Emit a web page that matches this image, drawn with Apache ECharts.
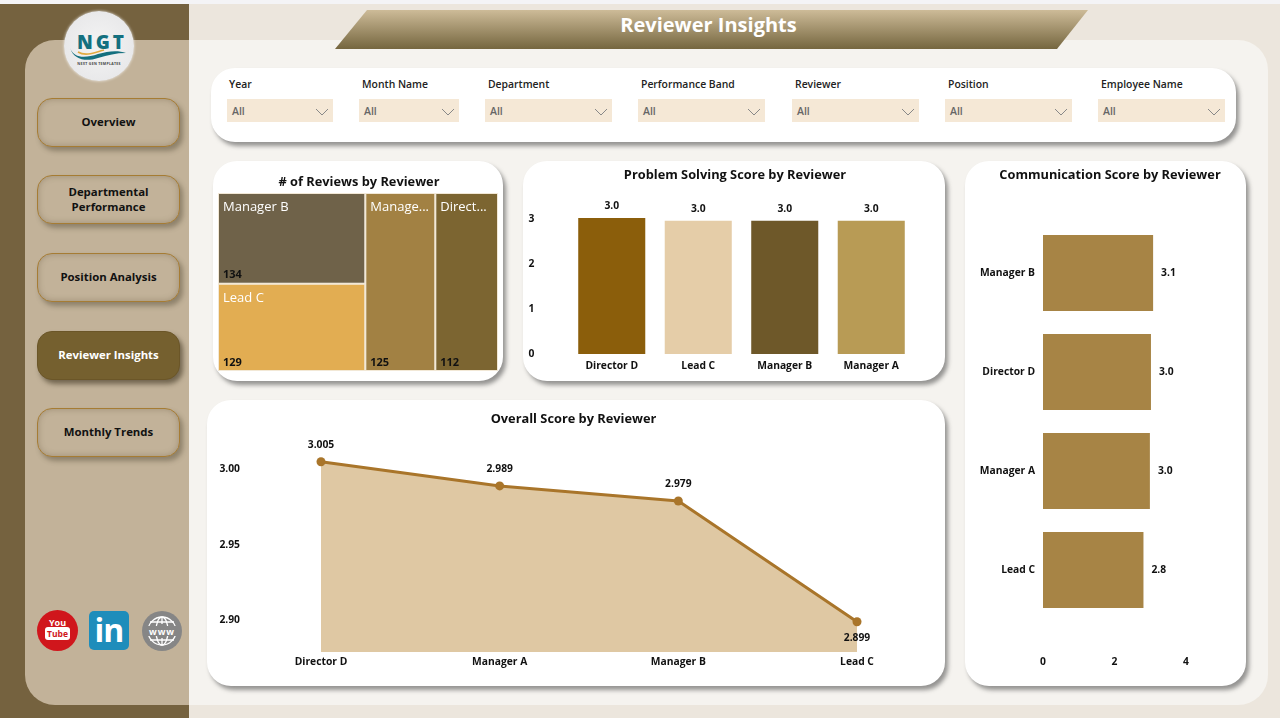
<!DOCTYPE html>
<html><head><meta charset="utf-8">
<script src="https://cdn.jsdelivr.net/npm/echarts@6/dist/echarts.min.js"></script>
<style>
html,body{margin:0;padding:0;width:1280px;height:718px;overflow:hidden;background:#ECE6DD;font-family:"Open Sans","Noto Sans",sans-serif}
.a{position:absolute;box-sizing:border-box}
.card{background:#fff;border-radius:24px;box-shadow:3px 4px 4px rgba(70,70,70,.55)}
.nav{left:37px;width:143px;height:49px;border:1px solid #A67C34;border-radius:15px;background:#C2B299;box-shadow:inset 0 0 6px rgba(90,75,50,.35),3px 4px 5px rgba(80,70,50,.45);color:#111;font-weight:700;font-size:11.4px;line-height:15.5px;display:flex;align-items:center;justify-content:center;text-align:center;padding-bottom:1px}
.nav.on{background:#75602F;border-color:#6b5628;color:#fff;box-shadow:3px 4px 5px rgba(60,50,30,.6)}
.sl{font-size:10.4px;font-weight:600;color:#222;top:77px;white-space:nowrap}
.box{top:99px;height:23px;background:#F5E8D6;color:#666;font-size:10.5px;font-weight:600;line-height:25px;padding-left:5px}
.box svg{position:absolute;right:4px;top:9px}
#chart{left:0;top:0;width:1280px;height:718px;z-index:5}
</style></head><body>
<div class="a" style="left:0;top:0;width:1280px;height:4px;background:#F4F4F6"></div>
<div class="a" style="left:0;top:4px;width:189px;height:714px;background:#75623F"></div>
<div class="a" style="left:25px;top:40px;width:164px;height:665px;background:#C2B299;border-radius:30px 0 0 30px"></div>
<div class="a" style="left:189px;top:40px;width:1079px;height:665px;background:#F5F3EF;border-radius:0 30px 30px 0"></div>
<div class="a" style="left:335px;top:10px;width:753px;height:39px;background:linear-gradient(#CDBB98,#75663F);clip-path:polygon(32px 0,753px 0,722px 100%,0 100%)"></div>
<div class="a" style="left:332px;top:10px;width:753px;height:30px;line-height:30px;text-align:center;color:#fff;font-weight:700;font-size:20px">Reviewer Insights</div>

<div class="a" style="left:64px;top:11px;width:70px;height:70px;border-radius:50%;background:radial-gradient(#F4F4F4,#E4E4E6);box-shadow:0 0 3px rgba(255,255,255,.8);text-align:center">
 <div style="margin-top:21px;font-weight:800;font-size:19px;letter-spacing:3px;color:#14707F;line-height:20px;padding-left:6px">NGT</div>
 <svg style="position:absolute;left:4px;top:33px" width="62" height="20" viewBox="0 0 62 20"><path d="M2 4C6 15 18 14 30 10C40 7 50 6 58 9C48 9 40 11 30 14C18 18 6 16 2 4Z" fill="#14707F"/><path d="M10 8C18 13 28 8 36 6" fill="none" stroke="#E0A93F" stroke-width="1.6"/></svg>
 <div style="position:absolute;left:0;width:70px;top:50px;font-size:3.5px;font-weight:700;color:#444;line-height:6px;letter-spacing:.3px">NEXT GEN TEMPLATES</div>
</div>
<div class="a nav" style="top:98px">Overview</div>
<div class="a nav" style="top:175px">Departmental<br>Performance</div>
<div class="a nav" style="top:253px">Position Analysis</div>
<div class="a nav on" style="top:331px">Reviewer Insights</div>
<div class="a nav" style="top:408px">Monthly Trends</div>

<div class="a" style="left:37px;top:610px;width:41px;height:41px;border-radius:50%;background:#D0161C;color:#fff;font-size:9px;font-weight:700;line-height:11px;text-align:center;padding-top:7px">You<br><span style="background:#fff;color:#D0161C;border-radius:3px;padding:1px 2px;font-size:8.5px">Tube</span></div>
<div class="a" style="left:89px;top:611px;width:40px;height:39px;border-radius:5px;background:#1E8DBB;color:#fff;font-size:32px;font-weight:700;line-height:38px;text-align:center;letter-spacing:-1px">in</div>
<svg class="a" style="left:142px;top:611px" width="40" height="40" viewBox="0 0 40 40"><circle cx="20" cy="20" r="20" fill="#868686"/><g fill="none" stroke="#fff" stroke-width="1.3"><circle cx="20" cy="20" r="14"/><ellipse cx="20" cy="20" rx="6" ry="14"/><path d="M20 6v7M20 27v7M8 11h24M8 29h24"/></g><rect x="3" y="15" width="34" height="10" fill="#868686"/><text x="20" y="24" text-anchor="middle" fill="#fff" font-size="9" font-weight="700" letter-spacing="1">www</text></svg>

<div class="a card" style="left:211px;top:68px;width:1025px;height:74px"></div>
<div class="a sl" style="left:229px">Year</div><div class="a box" style="left:227px;width:106px">All<svg width="14" height="8"><path d="M1 1l6 6 6-6" fill="none" stroke="#888"/></svg></div>
<div class="a sl" style="left:362px">Month Name</div><div class="a box" style="left:359px;width:100px">All<svg width="14" height="8"><path d="M1 1l6 6 6-6" fill="none" stroke="#888"/></svg></div>
<div class="a sl" style="left:488px">Department</div><div class="a box" style="left:485px;width:127px">All<svg width="14" height="8"><path d="M1 1l6 6 6-6" fill="none" stroke="#888"/></svg></div>
<div class="a sl" style="left:641px">Performance Band</div><div class="a box" style="left:638px;width:127px">All<svg width="14" height="8"><path d="M1 1l6 6 6-6" fill="none" stroke="#888"/></svg></div>
<div class="a sl" style="left:795px">Reviewer</div><div class="a box" style="left:792px;width:127px">All<svg width="14" height="8"><path d="M1 1l6 6 6-6" fill="none" stroke="#888"/></svg></div>
<div class="a sl" style="left:948px">Position</div><div class="a box" style="left:945px;width:127px">All<svg width="14" height="8"><path d="M1 1l6 6 6-6" fill="none" stroke="#888"/></svg></div>
<div class="a sl" style="left:1101px">Employee Name</div><div class="a box" style="left:1098px;width:127px">All<svg width="14" height="8"><path d="M1 1l6 6 6-6" fill="none" stroke="#888"/></svg></div>

<div class="a card" style="left:213px;top:161px;width:290px;height:220px"></div>
<div class="a card" style="left:523px;top:161px;width:422px;height:220px"></div>
<div class="a card" style="left:207px;top:400px;width:738px;height:286px"></div>
<div class="a card" style="left:965px;top:161px;width:281px;height:525px"></div>
<div class="a" id="chart"></div>
<script>
const reviewCategories = ['Manager B','Lead C','Manager A','Director D'];
const reviewCounts = [134,129,125,112];
const reviewColors = ['#6F6249','#E2AD52','#A28143','#7C6531'];
const problemCategories = ['Director D','Lead C','Manager B','Manager A'];
const problemScores = [3.03,2.97,2.97,2.97];
const problemTicks = [0,1,2,3];
const problemColors = ['#8B5E0B','#E5CDA8','#6E5829','#B89B55'];
const overallCategories = ['Director D','Manager A','Manager B','Lead C'];
const overallScores = [3.005,2.989,2.979,2.899];
const overallTicks = [2.90,2.95,3.00];
const commCategories = ['Manager B','Director D','Manager A','Lead C'];
const commScores = [3.08,3.02,2.99,2.81];

const font = '"Open Sans","Noto Sans",sans-serif';
const axisText = {color:'#111',fontWeight:700,fontSize:10.3,fontFamily:font};
const titleStyle = {color:'#111',fontWeight:700,fontSize:12.8,fontFamily:font};
const noLine = {show:false};
const treeData = reviewCategories.map((n,i)=>({name:n,value:reviewCounts[i],itemStyle:{color:reviewColors[i]}}));
const treeBase = {type:'treemap',left:218,top:193,width:280,height:178,roam:false,nodeClick:false,breadcrumb:{show:false},squareRatio:2,sort:'desc',
  levels:[{itemStyle:{gapWidth:2,borderWidth:1,borderColor:'#F2E8D6'}}]};

const chart = echarts.init(document.getElementById('chart'),null,{renderer:'canvas'});
chart.setOption({
  animation:false,
  backgroundColor:'transparent',
  title:[
    {text:'# of Reviews by Reviewer',left:354,top:171,textAlign:'center',textStyle:titleStyle},
    {text:'Problem Solving Score by Reviewer',left:730,top:164,textAlign:'center',textStyle:titleStyle},
    {text:'Overall Score by Reviewer',left:568.5,top:408,textAlign:'center',textStyle:titleStyle},
    {text:'Communication Score by Reviewer',left:1105,top:164,textAlign:'center',textStyle:titleStyle}
  ],
  grid:[
    {left:568.5,top:197,width:346,height:157},
    {left:321,top:450,width:536,height:202},
    {left:1043,top:223.5,width:143,height:396}
  ],
  xAxis:[
    {gridIndex:0,type:'category',data:problemCategories,axisLine:noLine,axisTick:noLine,axisLabel:{...axisText,margin:7}},
    {gridIndex:1,type:'category',data:overallCategories,boundaryGap:false,axisLine:noLine,axisTick:noLine,axisLabel:{...axisText,margin:5}},
    {gridIndex:2,type:'value',min:0,max:4,interval:2,splitLine:noLine,axisLine:noLine,axisTick:noLine,axisLabel:{...axisText,margin:38}}
  ],
  yAxis:[
    {gridIndex:0,type:'value',min:0,max:3.5,splitLine:noLine,axisLine:noLine,axisTick:noLine,axisLabel:{...axisText,margin:34,customValues:problemTicks}},
    {gridIndex:1,type:'value',min:2.879,max:3.0128,splitLine:noLine,axisLine:noLine,axisTick:noLine,
      axisLabel:{...axisText,margin:81,padding:[4,0,0,0],customValues:overallTicks,formatter:v=>v.toFixed(2)}},
    {gridIndex:2,type:'category',inverse:true,data:commCategories,axisLine:noLine,axisTick:noLine,axisLabel:{...axisText,margin:8,padding:[6,0,0,0]}}
  ],
  series:[
    {...treeBase,data:treeData,
      label:{show:true,position:'insideTopLeft',formatter:'{b}',color:'#fff',fontSize:13,fontFamily:font,distance:0,padding:[7,4,0,4],ellipsis:'...'}},
    {...treeBase,data:treeData.map(d=>({name:d.name,value:d.value,itemStyle:{color:'rgba(0,0,0,0)',borderColor:'rgba(0,0,0,0)'}})),silent:true,
      label:{show:true,position:'insideBottomLeft',formatter:'{c}',color:'#111',fontSize:11,fontWeight:700,fontFamily:font,distance:0,padding:[0,0,2,4]}},
    {type:'bar',xAxisIndex:0,yAxisIndex:0,barCategoryGap:'22.5%',
      data:problemScores.map((v,i)=>({value:v,itemStyle:{color:problemColors[i]}})),
      label:{show:true,position:'top',distance:7,formatter:p=>p.value.toFixed(1),...axisText}},
    {type:'line',xAxisIndex:1,yAxisIndex:1,symbol:'circle',symbolSize:9,
      data:overallScores.map(v=>v===Math.min(...overallScores)?{value:v,label:{position:'bottom',distance:7}}:{value:v}),
      lineStyle:{color:'#A9752A',width:3},itemStyle:{color:'#A9752A'},areaStyle:{color:'#DFC8A3',opacity:1},
      label:{show:true,position:'top',distance:7,formatter:p=>p.value.toFixed(3),...axisText}},
    {type:'bar',xAxisIndex:2,yAxisIndex:2,barCategoryGap:'23%',data:commScores,itemStyle:{color:'#A78445'},
      label:{show:true,position:'right',distance:8,padding:[4,0,0,0],formatter:p=>p.value.toFixed(1),...axisText}}
  ]
});
</script>
</body></html>
